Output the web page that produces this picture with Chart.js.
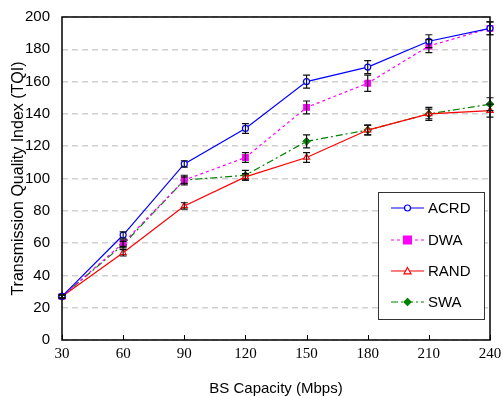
<!DOCTYPE html>
<html>
<head>
<meta charset="utf-8">
<script src="https://cdn.jsdelivr.net/npm/chart.js@4.4.0/dist/chart.umd.min.js"></script>
<style>
  html, body { margin: 0; padding: 0; background: #fff; }
  #wrap { width: 503px; height: 396px; }
</style>
</head>
<body>
<div id="wrap"><canvas id="myChart"></canvas></div>
<script>
const capacities = [30, 60, 90, 120, 150, 180, 210, 240];
const yTicks = [0, 20, 40, 60, 80, 100, 120, 140, 160, 180, 200];

const acrd = [27, 65, 109, 131, 160, 169, 185, 193];
const dwa = [27, 60, 99, 113, 144, 159, 182, 193];
const rand = [27, 54, 83, 101, 113, 130, 140, 142];
const swa = [27, 59, 99, 102, 123, 130, 140, 146];

const acrdErr = [1, 2, 2, 3, 4, 4, 4, 4];
const dwaErr = [1, 2, 2, 3, 4, 5, 4, 4];
const randErr = [1, 2, 2, 2, 3, 3, 3, 4];
const swaErr = [1, 2, 3, 3, 4, 3, 4, 4];

const sansFont = "Arial, 'Liberation Sans', sans-serif";
const serifFont = "'Times New Roman', 'Liberation Serif', serif";

// error bars, frame, x ticks and the boxed legend
const extras = {
  id: "extras",
  afterDatasetsDraw(chart) {
    const ctx = chart.ctx;
    const x = chart.scales.x;
    const y = chart.scales.y;
    const area = chart.chartArea;
    ctx.save();

    // frame
    ctx.strokeStyle = "#000";
    ctx.lineWidth = 1.5;
    ctx.setLineDash([]);
    ctx.strokeRect(area.left, area.top, area.right - area.left, area.bottom - area.top);

    // x ticks pointing up
    ctx.lineWidth = 1;
    capacities.forEach((c, i) => {
      const px = Math.round(x.getPixelForValue(i)) + 0.5;
      ctx.beginPath();
      ctx.moveTo(px, area.bottom);
      ctx.lineTo(px, area.bottom - 5);
      ctx.stroke();
    });

    // error bars
    ctx.strokeStyle = "#111";
    ctx.lineWidth = 1.2;
    chart.data.datasets.forEach((ds, i) => {
      const meta = chart.getDatasetMeta(i);
      meta.data.forEach((pt, j) => {
        const e = ds.errors[j];
        const top = y.getPixelForValue(ds.data[j] + e);
        const bot = y.getPixelForValue(ds.data[j] - e);
        ctx.beginPath();
        ctx.moveTo(pt.x, top);
        ctx.lineTo(pt.x, bot);
        ctx.moveTo(pt.x - 3.5, top);
        ctx.lineTo(pt.x + 3.5, top);
        ctx.moveTo(pt.x - 3.5, bot);
        ctx.lineTo(pt.x + 3.5, bot);
        ctx.stroke();
      });
    });

    // legend box
    const lx = 378, ly = 192, lw = 106, lh = 127;
    ctx.fillStyle = "#fff";
    ctx.fillRect(lx, ly, lw, lh);
    ctx.strokeStyle = "#333";
    ctx.lineWidth = 1;
    ctx.strokeRect(lx + 0.5, ly + 0.5, lw, lh);

    const rows = [208, 240, 271, 302];
    chart.data.datasets.forEach((ds, i) => {
      const ry = rows[i];
      ctx.strokeStyle = ds.borderColor;
      ctx.lineWidth = 1.2;
      ctx.setLineDash(ds.borderDash || []);
      ctx.beginPath();
      ctx.moveTo(391, ry);
      ctx.lineTo(424, ry);
      ctx.stroke();
      ctx.setLineDash([]);
      drawMarker(ctx, ds, 407.5, ry);
      ctx.fillStyle = "#000";
      ctx.font = "15px " + sansFont;
      ctx.textAlign = "left";
      ctx.textBaseline = "middle";
      ctx.fillText(ds.label, 428, ry + 1);
    });
    ctx.restore();
  }
};

function drawMarker(ctx, ds, cx, cy) {
  ctx.save();
  ctx.strokeStyle = ds.borderColor;
  ctx.fillStyle = ds.pointBackgroundColor;
  ctx.lineWidth = 1.2;
  const r = ds.pointRadius;
  ctx.beginPath();
  if (ds.pointStyle === "circle") {
    ctx.arc(cx, cy, r, 0, Math.PI * 2);
  } else if (ds.pointStyle === "rect") {
    ctx.rect(cx - r, cy - r, r * 2, r * 2);
  } else if (ds.pointStyle === "triangle") {
    ctx.moveTo(cx, cy - r);
    ctx.lineTo(cx + r, cy + r * 0.8);
    ctx.lineTo(cx - r, cy + r * 0.8);
    ctx.closePath();
  } else {
    ctx.moveTo(cx, cy - r);
    ctx.lineTo(cx + r, cy);
    ctx.lineTo(cx, cy + r);
    ctx.lineTo(cx - r, cy);
    ctx.closePath();
  }
  ctx.fill();
  ctx.stroke();
  ctx.restore();
}

const ctx = document.getElementById("myChart");

new Chart(ctx, {
  type: "line",
  data: {
    labels: capacities,
    datasets: [
      {
        label: "ACRD",
        data: acrd,
        errors: acrdErr,
        borderColor: "#0000ff",
        pointBackgroundColor: "#ffffff",
        pointStyle: "circle",
        pointRadius: 3,
        borderWidth: 1.2,
        pointBorderWidth: 1.2,
      },
      {
        label: "DWA",
        data: dwa,
        errors: dwaErr,
        borderColor: "#ff00ff",
        pointBackgroundColor: "#ff00ff",
        pointStyle: "rect",
        pointRadius: 4,
        borderWidth: 1.2,
        borderDash: [3, 3],
      },
      {
        label: "RAND",
        data: rand,
        errors: randErr,
        borderColor: "#ff0000",
        pointBackgroundColor: "#ffffff",
        pointStyle: "triangle",
        pointRadius: 3.5,
        borderWidth: 1.2,
        pointBorderWidth: 1.2,
      },
      {
        label: "SWA",
        data: swa,
        errors: swaErr,
        borderColor: "#008000",
        pointBackgroundColor: "#008000",
        pointStyle: "rectRot",
        pointRadius: 3.5,
        borderWidth: 1.2,
        borderDash: [7, 3, 2, 3],
      },
    ],
  },
  options: {
    responsive: true,
    maintainAspectRatio: false,
    animation: false,
    clip: false,
    layout: { padding: { top: 17, right: 13, left: 0, bottom: 0 } },
    plugins: {
      legend: { display: false },
      tooltip: { enabled: false },
    },
    elements: { line: { tension: 0 } },
    scales: {
      x: {
        offset: false,
        afterFit(scale) {
          scale.height = 56;
          scale.paddingLeft = 0;
          scale.paddingRight = 0;
        },
        grid: { display: false, drawTicks: false },
        border: { display: false },
        ticks: {
          color: "#000",
          font: { family: serifFont, size: 15 },
          padding: 5,
          maxRotation: 0,
        },
        title: {
          display: true,
          text: "BS Capacity (Mbps)",
          color: "#000",
          // lineHeight only shifts where the title sits
          font: { family: sansFont, size: 15, lineHeight: 0.9 },
          padding: 0,
        },
      },
      y: {
        min: 0,
        max: 200,
        afterFit(scale) {
          scale.width = 62;
          scale.paddingTop = 0;
          scale.paddingBottom = 0;
        },
        afterBuildTicks(scale) { scale.ticks = yTicks.map(v => ({ value: v })); },
        grid: {
          color: "#d0d0d0",
          lineWidth: 1.5,
          drawTicks: false,
        },
        border: { display: false, dash: [6, 4] },
        ticks: {
          color: "#000",
          font: { family: sansFont, size: 15 },
          padding: 12,
        },
        title: {
          display: true,
          text: "Transmission Quality Index (TQI)",
          color: "#000",
          font: { family: sansFont, size: 16, lineHeight: 2.3 },
          padding: 0,
        },
      },
    },
  },
  plugins: [extras],
});
</script>
</body>
</html>
